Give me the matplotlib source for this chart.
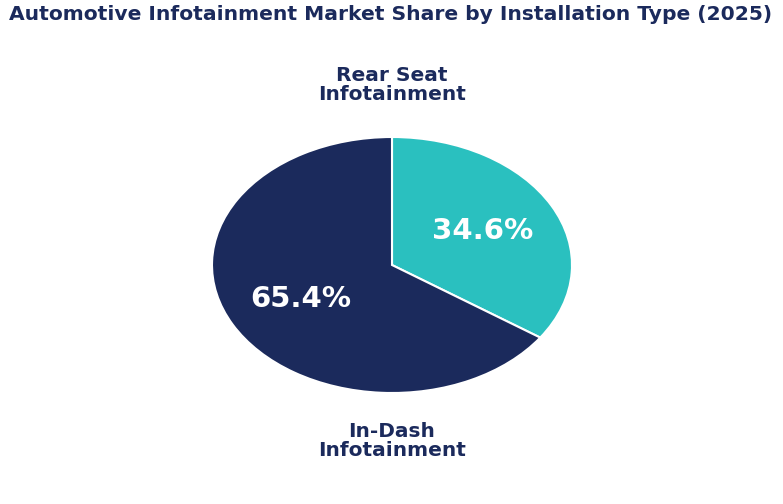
import matplotlib.pyplot as plt
import numpy as np

labels = ["Rear Seat\nInfotainment", "In-Dash\nInfotainment"]
shares = [34.6, 65.4]
colors = ["#2ac0bf", "#1b2a5c"]
navy = "#1b2a5c"

fig = plt.figure(figsize=(7.83, 5.04), dpi=100)
ax = fig.add_axes([212 / 783, 1 - 393 / 504, 360 / 783, 256 / 504])
wedges, texts = ax.pie(shares, colors=colors, startangle=90, counterclock=False,
                       wedgeprops=dict(edgecolor="white", linewidth=1.5))
ax.set_aspect("auto")
ax.set_xlim(-1, 1)
ax.set_ylim(-1, 1)

# percentage labels inside the slices
start = 90.0
for val in shares:
    mid = np.deg2rad(start - val * 3.6 / 2)
    start -= val * 3.6
    ax.text(0.57 * np.cos(mid), 0.57 * np.sin(mid), f"{val:.1f}%", color="white",
            fontsize=21, fontweight="bold", ha="center", va="center")

fig.text(392 / 783, 1 - 85 / 504, labels[0], ha="center", va="center", fontsize=14.5,
         fontweight="bold", color=navy, linespacing=0.95)
fig.text(392 / 783, 1 - 441 / 504, labels[1], ha="center", va="center", fontsize=14.5,
         fontweight="bold", color=navy, linespacing=0.95)
fig.text(391 / 783, 1 - 14 / 504, "Automotive Infotainment Market Share by Installation Type (2025)",
         ha="center", va="center", fontsize=14.6, fontweight="bold", color=navy)

fig.savefig("out.png", dpi=100)
